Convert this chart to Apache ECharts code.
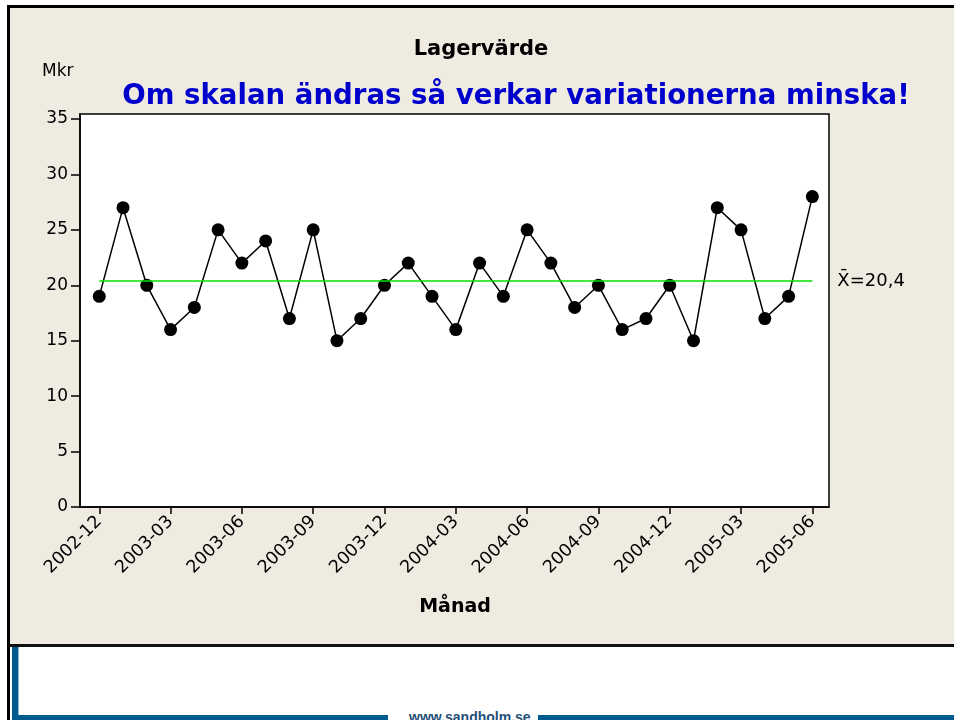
<!DOCTYPE html>
<html>
<head>
<meta charset="utf-8">
<title>Lagervärde</title>
<script src="https://cdn.jsdelivr.net/npm/echarts@6/dist/echarts.min.js"></script>
<style>
  body { margin: 0; width: 954px; height: 720px; overflow: hidden; background: #fff; position: relative; }
  .panel {
    position: absolute; left: 7px; top: 5px; width: 960px; height: 642px;
    box-sizing: border-box; background: #efebe1;
    border-top: 3px solid #000; border-left: 3px solid #000; border-bottom: 3px solid #111;
  }
  .left-line { position: absolute; left: 7px; top: 647px; width: 3px; height: 73px; background: #000; }
  .blue-v { position: absolute; left: 12px; top: 647px; width: 6px; height: 73px; background: #005b8e; border-right: 1px solid #8db3d5; }
  .blue-b1 { position: absolute; left: 12px; top: 715px; width: 376px; height: 5px; background: #005b8e; }
  .blue-b2 { position: absolute; left: 538px; top: 715px; width: 416px; height: 5px; background: #005b8e; }
  .site {
    position: absolute; left: 409px; top: 709px; font: bold 14px "Liberation Sans", Arial, sans-serif;
    color: #1f4e79; line-height: 17px; white-space: nowrap;
  }
  #chart { position: absolute; left: 0; top: 0; width: 954px; height: 720px; }
</style>
</head>
<body>
<div class="panel"></div>
<div class="left-line"></div>
<div class="blue-v"></div>
<div class="blue-b1"></div>
<div class="blue-b2"></div>
<div class="site">www.sandholm.se</div>
<div id="chart"></div>
<script>
// månader (x-axeln)
const months = [
  '2002-12', '2003-01', '2003-02', '2003-03', '2003-04', '2003-05', '2003-06',
  '2003-07', '2003-08', '2003-09', '2003-10', '2003-11', '2003-12', '2004-01',
  '2004-02', '2004-03', '2004-04', '2004-05', '2004-06', '2004-07', '2004-08',
  '2004-09', '2004-10', '2004-11', '2004-12', '2005-01', '2005-02', '2005-03',
  '2005-04', '2005-05', '2005-06'
];
// lagervärde, Mkr
const values = [
  19, 27, 20, 16, 18, 25, 22, 24, 17, 25, 15, 17, 20, 22, 19, 16,
  22, 19, 25, 22, 18, 20, 16, 17, 20, 15, 27, 25, 17, 19, 28
];
const xTickLabels = ['2002-12', '2003-03', '2003-06', '2003-09', '2003-12', '2004-03',
  '2004-06', '2004-09', '2004-12', '2005-03', '2005-06'];
const yTicks = [0, 5, 10, 15, 20, 25, 30, 35];

const font = 'DejaVu Sans';
const mean = values.reduce((a, b) => a + b, 0) / values.length;
const xTickIdx = xTickLabels.map(m => months.indexOf(m));

const chart = echarts.init(document.getElementById('chart'));
chart.setOption({
  backgroundColor: 'transparent',
  animation: false,
  textStyle: { fontFamily: font },
  graphic: [
    { type: 'text', x: 481, y: 50, style: { text: 'Lagervärde', font: 'bold 21px "DejaVu Sans"', fill: '#000', align: 'center', verticalAlign: 'middle' } },
    { type: 'text', x: 42, y: 72, style: { text: 'Mkr', font: '17px "DejaVu Sans"', fill: '#000', align: 'left', verticalAlign: 'middle' } },
    { type: 'text', x: 516, y: 97, style: { text: 'Om skalan ändras så verkar variationerna minska!', font: 'bold 27.6px "DejaVu Sans"', fill: '#0000cc', align: 'center', verticalAlign: 'middle' } },
    { type: 'text', x: 455, y: 607, style: { text: 'Månad', font: 'bold 19px "DejaVu Sans"', fill: '#000', align: 'center', verticalAlign: 'middle' } }
  ],
  grid: {
    left: 80, top: 114, width: 749, height: 393,
    show: true, backgroundColor: '#fff', borderColor: '#000', borderWidth: 1.5
  },
  xAxis: {
    type: 'value',
    min: -0.81,
    max: 30.7,
    axisLine: { show: true, onZero: false, lineStyle: { color: '#000', width: 1.5 } },
    splitLine: { show: false },
    axisTick: { show: true, length: 7, customValues: xTickIdx, lineStyle: { color: '#000', width: 1.5 } },
    axisLabel: {
      customValues: xTickIdx,
      rotate: 45, margin: 12, fontSize: 17.5, color: '#000', fontFamily: font,
      formatter: v => months[Math.round(v)]
    }
  },
  yAxis: {
    type: 'value',
    min: 0,
    max: 35.45,
    axisLine: { show: true, onZero: false, lineStyle: { color: '#000', width: 1.5 } },
    splitLine: { show: false },
    axisTick: { show: true, length: 9, customValues: yTicks, lineStyle: { color: '#000', width: 1.5 } },
    axisLabel: { customValues: yTicks, margin: 12, fontSize: 17, color: '#000', fontFamily: font }
  },
  series: [{
    type: 'line',
    data: months.map((m, i) => [i, values[i]]),
    symbol: 'circle',
    symbolSize: 13,
    itemStyle: { color: '#000' },
    lineStyle: { color: '#000', width: 1.5 },
    z: 3,
    markLine: {
      silent: true,
      symbol: ['none', 'none'],
      lineStyle: { color: '#00e000', width: 1.5, type: 'solid' },
      label: {
        show: true, position: 'end', distance: 25,
        formatter: 'X\u0304=' + mean.toFixed(1).replace('.', ','),
        color: '#000', fontSize: 18, fontFamily: font
      },
      data: [[{ coord: [0, mean] }, { coord: [months.length - 1, mean] }]]
    }
  }]
});
</script>
</body>
</html>
